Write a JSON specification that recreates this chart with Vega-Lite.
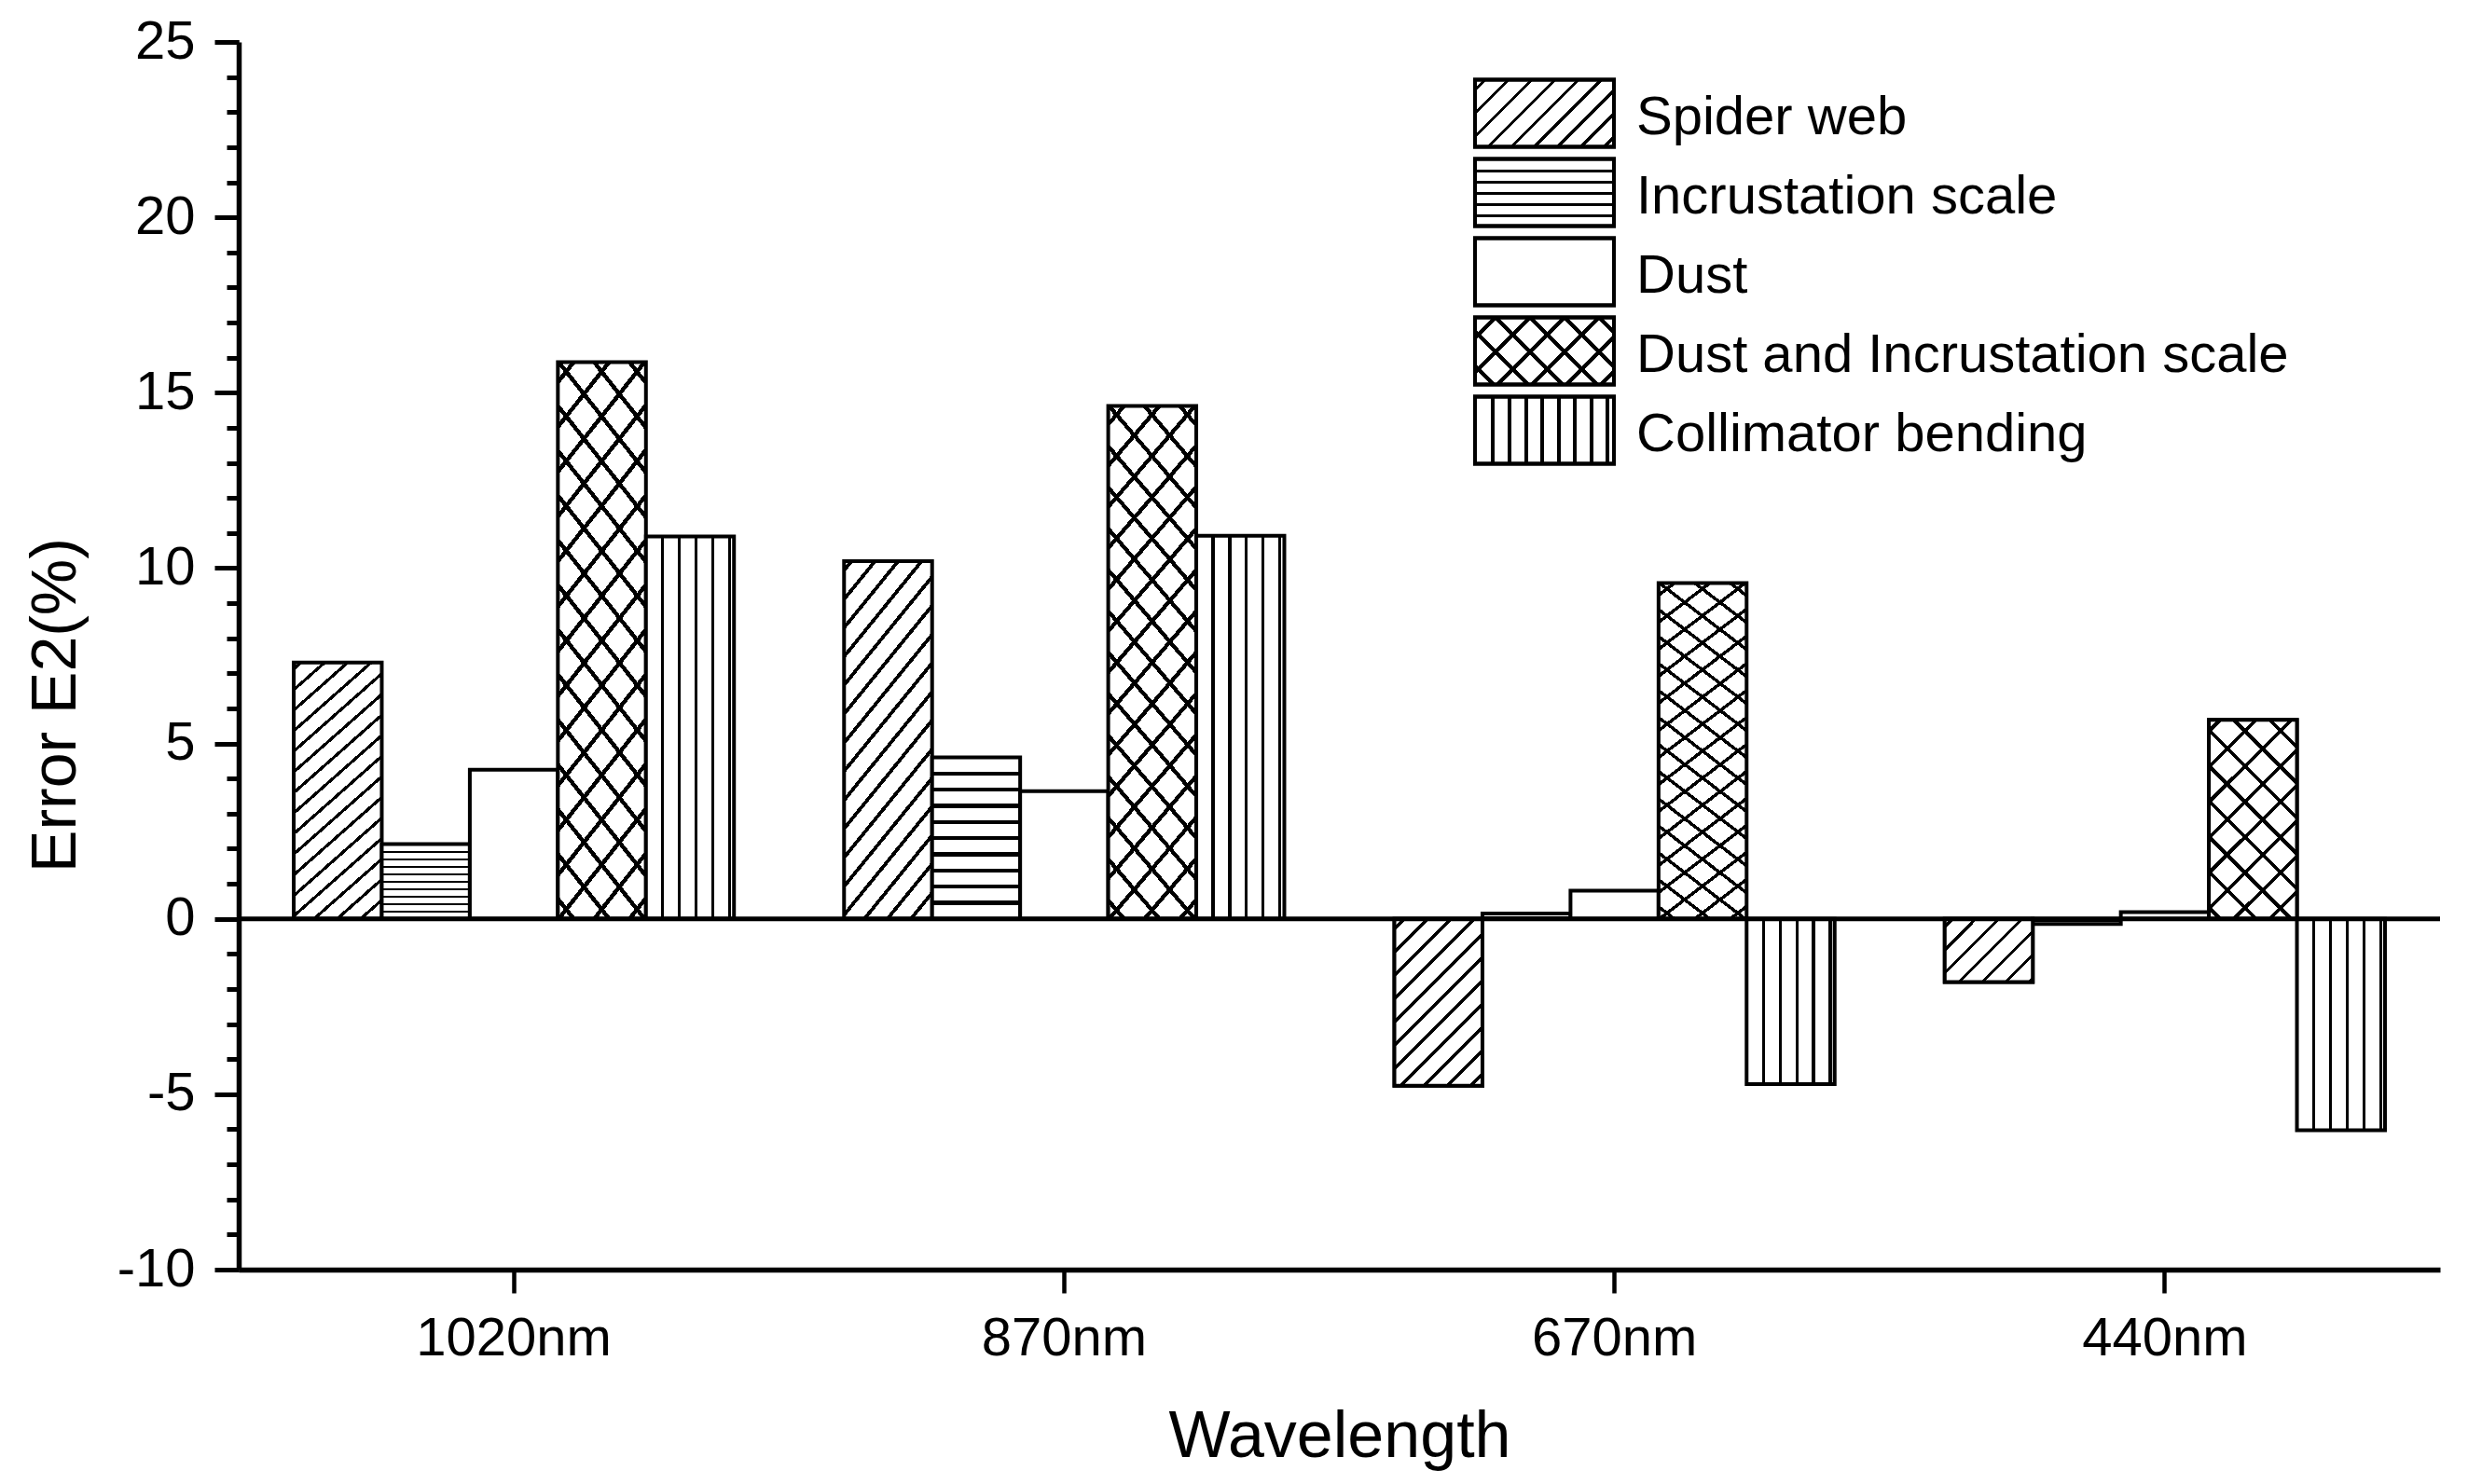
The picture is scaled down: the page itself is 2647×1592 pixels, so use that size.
{
  "$schema": "https://vega.github.io/schema/vega-lite/v6.json",
  "width": 2361,
  "height": 1317,
  "autosize": {"type": "none"},
  "padding": {"left": 256, "top": 45, "right": 30, "bottom": 230},
  "background": "white",
  "params": [
    {"name": "gSpider", "expr": "{gradient:'linear',x1:0,y1:0,x2:0.3617,y2:1.1935,stops:[{offset:0,color:'#fff'},{offset:0.014,color:'#fff'},{offset:0.014,color:'#000'},{offset:0.026,color:'#000'},{offset:0.026,color:'#fff'},{offset:0.076,color:'#fff'},{offset:0.076,color:'#000'},{offset:0.088,color:'#000'},{offset:0.088,color:'#fff'},{offset:0.137,color:'#fff'},{offset:0.137,color:'#000'},{offset:0.149,color:'#000'},{offset:0.149,color:'#fff'},{offset:0.199,color:'#fff'},{offset:0.199,color:'#000'},{offset:0.211,color:'#000'},{offset:0.211,color:'#fff'},{offset:0.26,color:'#fff'},{offset:0.26,color:'#000'},{offset:0.272,color:'#000'},{offset:0.272,color:'#fff'},{offset:0.322,color:'#fff'},{offset:0.322,color:'#000'},{offset:0.334,color:'#000'},{offset:0.334,color:'#fff'},{offset:0.384,color:'#fff'},{offset:0.384,color:'#000'},{offset:0.396,color:'#000'},{offset:0.396,color:'#fff'},{offset:0.445,color:'#fff'},{offset:0.445,color:'#000'},{offset:0.457,color:'#000'},{offset:0.457,color:'#fff'},{offset:0.507,color:'#fff'},{offset:0.507,color:'#000'},{offset:0.519,color:'#000'},{offset:0.519,color:'#fff'},{offset:0.568,color:'#fff'},{offset:0.568,color:'#000'},{offset:0.58,color:'#000'},{offset:0.58,color:'#fff'},{offset:0.63,color:'#fff'},{offset:0.63,color:'#000'},{offset:0.642,color:'#000'},{offset:0.642,color:'#fff'},{offset:0.692,color:'#fff'},{offset:0.692,color:'#000'},{offset:0.704,color:'#000'},{offset:0.704,color:'#fff'},{offset:0.753,color:'#fff'},{offset:0.753,color:'#000'},{offset:0.765,color:'#000'},{offset:0.765,color:'#fff'},{offset:0.815,color:'#fff'},{offset:0.815,color:'#000'},{offset:0.827,color:'#000'},{offset:0.827,color:'#fff'},{offset:0.876,color:'#fff'},{offset:0.876,color:'#000'},{offset:0.888,color:'#000'},{offset:0.888,color:'#fff'},{offset:0.938,color:'#fff'},{offset:0.938,color:'#000'},{offset:0.95,color:'#000'},{offset:0.95,color:'#fff'},{offset:1,color:'#fff'}]}"},
    {"name": "gSpider670", "expr": "{gradient:'linear',x1:0,y1:0,x2:0.629,y2:1.195,stops:[{offset:0,color:'#fff'},{offset:0.031,color:'#fff'},{offset:0.031,color:'#000'},{offset:0.049,color:'#000'},{offset:0.049,color:'#fff'},{offset:0.122,color:'#fff'},{offset:0.122,color:'#000'},{offset:0.14,color:'#000'},{offset:0.14,color:'#fff'},{offset:0.214,color:'#fff'},{offset:0.214,color:'#000'},{offset:0.232,color:'#000'},{offset:0.232,color:'#fff'},{offset:0.305,color:'#fff'},{offset:0.305,color:'#000'},{offset:0.323,color:'#000'},{offset:0.323,color:'#fff'},{offset:0.397,color:'#fff'},{offset:0.397,color:'#000'},{offset:0.415,color:'#000'},{offset:0.415,color:'#fff'},{offset:0.488,color:'#fff'},{offset:0.488,color:'#000'},{offset:0.506,color:'#000'},{offset:0.506,color:'#fff'},{offset:0.579,color:'#fff'},{offset:0.579,color:'#000'},{offset:0.597,color:'#000'},{offset:0.597,color:'#fff'},{offset:0.671,color:'#fff'},{offset:0.671,color:'#000'},{offset:0.689,color:'#000'},{offset:0.689,color:'#fff'},{offset:0.762,color:'#fff'},{offset:0.762,color:'#000'},{offset:0.78,color:'#000'},{offset:0.78,color:'#fff'},{offset:0.854,color:'#fff'},{offset:0.854,color:'#000'},{offset:0.872,color:'#000'},{offset:0.872,color:'#fff'},{offset:0.945,color:'#fff'},{offset:0.945,color:'#000'},{offset:0.963,color:'#000'},{offset:0.963,color:'#fff'},{offset:1,color:'#fff'}]}"},
    {"name": "gSpider440", "expr": "{gradient:'linear',x1:0,y1:0,x2:1.134,y2:0.813,stops:[{offset:0,color:'#fff'},{offset:0.035,color:'#fff'},{offset:0.035,color:'#000'},{offset:0.065,color:'#000'},{offset:0.065,color:'#fff'},{offset:0.189,color:'#fff'},{offset:0.189,color:'#000'},{offset:0.219,color:'#000'},{offset:0.219,color:'#fff'},{offset:0.343,color:'#fff'},{offset:0.343,color:'#000'},{offset:0.373,color:'#000'},{offset:0.373,color:'#fff'},{offset:0.497,color:'#fff'},{offset:0.497,color:'#000'},{offset:0.527,color:'#000'},{offset:0.527,color:'#fff'},{offset:0.651,color:'#fff'},{offset:0.651,color:'#000'},{offset:0.681,color:'#000'},{offset:0.681,color:'#fff'},{offset:0.805,color:'#fff'},{offset:0.805,color:'#000'},{offset:0.835,color:'#000'},{offset:0.835,color:'#fff'},{offset:0.959,color:'#fff'},{offset:0.959,color:'#000'},{offset:0.989,color:'#000'},{offset:0.989,color:'#fff'},{offset:1,color:'#fff'}]}"},
    {"name": "gIncr", "expr": "{gradient:'linear',x1:0,y1:0,x2:0,y2:1,stops:[{offset:0,color:'#fff'},{offset:0.087,color:'#fff'},{offset:0.087,color:'#000'},{offset:0.113,color:'#000'},{offset:0.113,color:'#fff'},{offset:0.187,color:'#fff'},{offset:0.187,color:'#000'},{offset:0.213,color:'#000'},{offset:0.213,color:'#fff'},{offset:0.287,color:'#fff'},{offset:0.287,color:'#000'},{offset:0.313,color:'#000'},{offset:0.313,color:'#fff'},{offset:0.387,color:'#fff'},{offset:0.387,color:'#000'},{offset:0.413,color:'#000'},{offset:0.413,color:'#fff'},{offset:0.487,color:'#fff'},{offset:0.487,color:'#000'},{offset:0.513,color:'#000'},{offset:0.513,color:'#fff'},{offset:0.587,color:'#fff'},{offset:0.587,color:'#000'},{offset:0.613,color:'#000'},{offset:0.613,color:'#fff'},{offset:0.687,color:'#fff'},{offset:0.687,color:'#000'},{offset:0.713,color:'#000'},{offset:0.713,color:'#fff'},{offset:0.787,color:'#fff'},{offset:0.787,color:'#000'},{offset:0.813,color:'#000'},{offset:0.813,color:'#fff'},{offset:0.887,color:'#fff'},{offset:0.887,color:'#000'},{offset:0.913,color:'#000'},{offset:0.913,color:'#fff'},{offset:1,color:'#fff'}]}"},
    {"name": "gCross", "expr": "{gradient:'linear',x1:0,y1:0,x2:0.2308,y2:1.1538,stops:[{offset:0,color:'#fff'},{offset:0.025,color:'#fff'},{offset:0.025,color:'#000'},{offset:0.035,color:'#000'},{offset:0.035,color:'#fff'},{offset:0.092,color:'#fff'},{offset:0.092,color:'#000'},{offset:0.102,color:'#000'},{offset:0.102,color:'#fff'},{offset:0.159,color:'#fff'},{offset:0.159,color:'#000'},{offset:0.169,color:'#000'},{offset:0.169,color:'#fff'},{offset:0.226,color:'#fff'},{offset:0.226,color:'#000'},{offset:0.236,color:'#000'},{offset:0.236,color:'#fff'},{offset:0.293,color:'#fff'},{offset:0.293,color:'#000'},{offset:0.303,color:'#000'},{offset:0.303,color:'#fff'},{offset:0.361,color:'#fff'},{offset:0.361,color:'#000'},{offset:0.371,color:'#000'},{offset:0.371,color:'#fff'},{offset:0.428,color:'#fff'},{offset:0.428,color:'#000'},{offset:0.438,color:'#000'},{offset:0.438,color:'#fff'},{offset:0.495,color:'#fff'},{offset:0.495,color:'#000'},{offset:0.505,color:'#000'},{offset:0.505,color:'#fff'},{offset:0.562,color:'#fff'},{offset:0.562,color:'#000'},{offset:0.572,color:'#000'},{offset:0.572,color:'#fff'},{offset:0.629,color:'#fff'},{offset:0.629,color:'#000'},{offset:0.639,color:'#000'},{offset:0.639,color:'#fff'},{offset:0.696,color:'#fff'},{offset:0.696,color:'#000'},{offset:0.706,color:'#000'},{offset:0.706,color:'#fff'},{offset:0.763,color:'#fff'},{offset:0.763,color:'#000'},{offset:0.773,color:'#000'},{offset:0.773,color:'#fff'},{offset:0.83,color:'#fff'},{offset:0.83,color:'#000'},{offset:0.84,color:'#000'},{offset:0.84,color:'#fff'},{offset:0.897,color:'#fff'},{offset:0.897,color:'#000'},{offset:0.907,color:'#000'},{offset:0.907,color:'#fff'},{offset:0.964,color:'#fff'},{offset:0.964,color:'#000'},{offset:0.974,color:'#000'},{offset:0.974,color:'#fff'},{offset:1,color:'#fff'}]}"},
    {"name": "gCross2", "expr": "{gradient:'linear',x1:0,y1:1,x2:0.2308,y2:-0.1538,stops:[{offset:0,color:'transparent'},{offset:0.025,color:'transparent'},{offset:0.025,color:'#000'},{offset:0.035,color:'#000'},{offset:0.035,color:'transparent'},{offset:0.092,color:'transparent'},{offset:0.092,color:'#000'},{offset:0.102,color:'#000'},{offset:0.102,color:'transparent'},{offset:0.159,color:'transparent'},{offset:0.159,color:'#000'},{offset:0.169,color:'#000'},{offset:0.169,color:'transparent'},{offset:0.226,color:'transparent'},{offset:0.226,color:'#000'},{offset:0.236,color:'#000'},{offset:0.236,color:'transparent'},{offset:0.293,color:'transparent'},{offset:0.293,color:'#000'},{offset:0.303,color:'#000'},{offset:0.303,color:'transparent'},{offset:0.361,color:'transparent'},{offset:0.361,color:'#000'},{offset:0.371,color:'#000'},{offset:0.371,color:'transparent'},{offset:0.428,color:'transparent'},{offset:0.428,color:'#000'},{offset:0.438,color:'#000'},{offset:0.438,color:'transparent'},{offset:0.495,color:'transparent'},{offset:0.495,color:'#000'},{offset:0.505,color:'#000'},{offset:0.505,color:'transparent'},{offset:0.562,color:'transparent'},{offset:0.562,color:'#000'},{offset:0.572,color:'#000'},{offset:0.572,color:'transparent'},{offset:0.629,color:'transparent'},{offset:0.629,color:'#000'},{offset:0.639,color:'#000'},{offset:0.639,color:'transparent'},{offset:0.696,color:'transparent'},{offset:0.696,color:'#000'},{offset:0.706,color:'#000'},{offset:0.706,color:'transparent'},{offset:0.763,color:'transparent'},{offset:0.763,color:'#000'},{offset:0.773,color:'#000'},{offset:0.773,color:'transparent'},{offset:0.83,color:'transparent'},{offset:0.83,color:'#000'},{offset:0.84,color:'#000'},{offset:0.84,color:'transparent'},{offset:0.897,color:'transparent'},{offset:0.897,color:'#000'},{offset:0.907,color:'#000'},{offset:0.907,color:'transparent'},{offset:0.964,color:'transparent'},{offset:0.964,color:'#000'},{offset:0.974,color:'#000'},{offset:0.974,color:'transparent'},{offset:1,color:'transparent'}]}"},
    {"name": "gCross440", "expr": "{gradient:'linear',x1:0,y1:0,x2:0.5336,y2:1.206,stops:[{offset:0,color:'#fff'},{offset:0.031,color:'#fff'},{offset:0.031,color:'#000'},{offset:0.049,color:'#000'},{offset:0.049,color:'#fff'},{offset:0.155,color:'#fff'},{offset:0.155,color:'#000'},{offset:0.173,color:'#000'},{offset:0.173,color:'#fff'},{offset:0.278,color:'#fff'},{offset:0.278,color:'#000'},{offset:0.296,color:'#000'},{offset:0.296,color:'#fff'},{offset:0.402,color:'#fff'},{offset:0.402,color:'#000'},{offset:0.42,color:'#000'},{offset:0.42,color:'#fff'},{offset:0.525,color:'#fff'},{offset:0.525,color:'#000'},{offset:0.543,color:'#000'},{offset:0.543,color:'#fff'},{offset:0.649,color:'#fff'},{offset:0.649,color:'#000'},{offset:0.667,color:'#000'},{offset:0.667,color:'#fff'},{offset:0.772,color:'#fff'},{offset:0.772,color:'#000'},{offset:0.79,color:'#000'},{offset:0.79,color:'#fff'},{offset:0.896,color:'#fff'},{offset:0.896,color:'#000'},{offset:0.914,color:'#000'},{offset:0.914,color:'#fff'},{offset:1,color:'#fff'}]}"},
    {"name": "gCross440b", "expr": "{gradient:'linear',x1:0,y1:1,x2:0.5336,y2:-0.206,stops:[{offset:0,color:'transparent'},{offset:0.031,color:'transparent'},{offset:0.031,color:'#000'},{offset:0.049,color:'#000'},{offset:0.049,color:'transparent'},{offset:0.155,color:'transparent'},{offset:0.155,color:'#000'},{offset:0.173,color:'#000'},{offset:0.173,color:'transparent'},{offset:0.278,color:'transparent'},{offset:0.278,color:'#000'},{offset:0.296,color:'#000'},{offset:0.296,color:'transparent'},{offset:0.402,color:'transparent'},{offset:0.402,color:'#000'},{offset:0.42,color:'#000'},{offset:0.42,color:'transparent'},{offset:0.525,color:'transparent'},{offset:0.525,color:'#000'},{offset:0.543,color:'#000'},{offset:0.543,color:'transparent'},{offset:0.649,color:'transparent'},{offset:0.649,color:'#000'},{offset:0.667,color:'#000'},{offset:0.667,color:'transparent'},{offset:0.772,color:'transparent'},{offset:0.772,color:'#000'},{offset:0.79,color:'#000'},{offset:0.79,color:'transparent'},{offset:0.896,color:'transparent'},{offset:0.896,color:'#000'},{offset:0.914,color:'#000'},{offset:0.914,color:'transparent'},{offset:1,color:'transparent'}]}"},
    {"name": "gColl", "expr": "{gradient:'linear',x1:0,y1:0,x2:1,y2:0,stops:[{offset:0,color:'#fff'},{offset:0.173,color:'#fff'},{offset:0.173,color:'#000'},{offset:0.207,color:'#000'},{offset:0.207,color:'#fff'},{offset:0.363,color:'#fff'},{offset:0.363,color:'#000'},{offset:0.397,color:'#000'},{offset:0.397,color:'#fff'},{offset:0.553,color:'#fff'},{offset:0.553,color:'#000'},{offset:0.587,color:'#000'},{offset:0.587,color:'#fff'},{offset:0.743,color:'#fff'},{offset:0.743,color:'#000'},{offset:0.777,color:'#000'},{offset:0.777,color:'#fff'},{offset:0.933,color:'#fff'},{offset:0.933,color:'#000'},{offset:0.967,color:'#000'},{offset:0.967,color:'#fff'},{offset:1,color:'#fff'}]}"},
    {"name": "lSpider", "expr": "{gradient:'linear',x1:0,y1:0,x2:1.2025,y2:0.5808,stops:[{offset:0,color:'#fff'},{offset:0.039,color:'#fff'},{offset:0.039,color:'#000'},{offset:0.061,color:'#000'},{offset:0.061,color:'#fff'},{offset:0.152,color:'#fff'},{offset:0.152,color:'#000'},{offset:0.174,color:'#000'},{offset:0.174,color:'#fff'},{offset:0.265,color:'#fff'},{offset:0.265,color:'#000'},{offset:0.287,color:'#000'},{offset:0.287,color:'#fff'},{offset:0.378,color:'#fff'},{offset:0.378,color:'#000'},{offset:0.4,color:'#000'},{offset:0.4,color:'#fff'},{offset:0.491,color:'#fff'},{offset:0.491,color:'#000'},{offset:0.513,color:'#000'},{offset:0.513,color:'#fff'},{offset:0.604,color:'#fff'},{offset:0.604,color:'#000'},{offset:0.626,color:'#000'},{offset:0.626,color:'#fff'},{offset:0.717,color:'#fff'},{offset:0.717,color:'#000'},{offset:0.739,color:'#000'},{offset:0.739,color:'#fff'},{offset:0.83,color:'#fff'},{offset:0.83,color:'#000'},{offset:0.852,color:'#000'},{offset:0.852,color:'#fff'},{offset:0.943,color:'#fff'},{offset:0.943,color:'#000'},{offset:0.965,color:'#000'},{offset:0.965,color:'#fff'},{offset:1,color:'#fff'}]}"},
    {"name": "lIncr", "expr": "{gradient:'linear',x1:0,y1:0,x2:0,y2:1,stops:[{offset:0,color:'#fff'},{offset:0.16,color:'#fff'},{offset:0.16,color:'#000'},{offset:0.2,color:'#000'},{offset:0.2,color:'#fff'},{offset:0.325,color:'#fff'},{offset:0.325,color:'#000'},{offset:0.365,color:'#000'},{offset:0.365,color:'#fff'},{offset:0.495,color:'#fff'},{offset:0.495,color:'#000'},{offset:0.535,color:'#000'},{offset:0.535,color:'#fff'},{offset:0.665,color:'#fff'},{offset:0.665,color:'#000'},{offset:0.705,color:'#000'},{offset:0.705,color:'#fff'},{offset:0.83,color:'#fff'},{offset:0.83,color:'#000'},{offset:0.87,color:'#000'},{offset:0.87,color:'#fff'},{offset:1,color:'#fff'}]}"},
    {"name": "lCross", "expr": "{gradient:'linear',x1:0,y1:0,x2:1.2025,y2:0.5808,stops:[{offset:0,color:'#fff'},{offset:0.087,color:'#fff'},{offset:0.087,color:'#000'},{offset:0.113,color:'#000'},{offset:0.113,color:'#fff'},{offset:0.254,color:'#fff'},{offset:0.254,color:'#000'},{offset:0.28,color:'#000'},{offset:0.28,color:'#fff'},{offset:0.421,color:'#fff'},{offset:0.421,color:'#000'},{offset:0.447,color:'#000'},{offset:0.447,color:'#fff'},{offset:0.589,color:'#fff'},{offset:0.589,color:'#000'},{offset:0.615,color:'#000'},{offset:0.615,color:'#fff'},{offset:0.756,color:'#fff'},{offset:0.756,color:'#000'},{offset:0.782,color:'#000'},{offset:0.782,color:'#fff'},{offset:0.924,color:'#fff'},{offset:0.924,color:'#000'},{offset:0.95,color:'#000'},{offset:0.95,color:'#fff'},{offset:1,color:'#fff'}]}"},
    {"name": "lCross2", "expr": "{gradient:'linear',x1:0,y1:1,x2:1.2025,y2:0.4192,stops:[{offset:0,color:'transparent'},{offset:0.077,color:'transparent'},{offset:0.077,color:'#000'},{offset:0.103,color:'#000'},{offset:0.103,color:'transparent'},{offset:0.245,color:'transparent'},{offset:0.245,color:'#000'},{offset:0.271,color:'#000'},{offset:0.271,color:'transparent'},{offset:0.412,color:'transparent'},{offset:0.412,color:'#000'},{offset:0.438,color:'#000'},{offset:0.438,color:'transparent'},{offset:0.58,color:'transparent'},{offset:0.58,color:'#000'},{offset:0.606,color:'#000'},{offset:0.606,color:'transparent'},{offset:0.747,color:'transparent'},{offset:0.747,color:'#000'},{offset:0.773,color:'#000'},{offset:0.773,color:'transparent'},{offset:0.915,color:'transparent'},{offset:0.915,color:'#000'},{offset:0.941,color:'#000'},{offset:0.941,color:'transparent'},{offset:1,color:'transparent'}]}"},
    {"name": "lColl", "expr": "{gradient:'linear',x1:0,y1:0,x2:1,y2:0,stops:[{offset:0,color:'#fff'},{offset:0.117,color:'#fff'},{offset:0.117,color:'#000'},{offset:0.139,color:'#000'},{offset:0.139,color:'#fff'},{offset:0.237,color:'#fff'},{offset:0.237,color:'#000'},{offset:0.259,color:'#000'},{offset:0.259,color:'#fff'},{offset:0.358,color:'#fff'},{offset:0.358,color:'#000'},{offset:0.38,color:'#000'},{offset:0.38,color:'#fff'},{offset:0.472,color:'#fff'},{offset:0.472,color:'#000'},{offset:0.494,color:'#000'},{offset:0.494,color:'#fff'},{offset:0.593,color:'#fff'},{offset:0.593,color:'#000'},{offset:0.615,color:'#000'},{offset:0.615,color:'#fff'},{offset:0.707,color:'#fff'},{offset:0.707,color:'#000'},{offset:0.729,color:'#000'},{offset:0.729,color:'#fff'},{offset:0.828,color:'#fff'},{offset:0.828,color:'#000'},{offset:0.85,color:'#000'},{offset:0.85,color:'#fff'},{offset:0.942,color:'#fff'},{offset:0.942,color:'#000'},{offset:0.964,color:'#000'},{offset:0.964,color:'#fff'},{offset:1,color:'#fff'}]}"}
  ],
  "data": {
    "values": [
      {"wavelength": "1020nm", "series": "Spider web", "value": 7.31},
      {"wavelength": "1020nm", "series": "Incrustation scale", "value": 2.13},
      {"wavelength": "1020nm", "series": "Dust", "value": 4.25},
      {"wavelength": "1020nm", "series": "Dust and Incrustation scale", "value": 15.87},
      {"wavelength": "1020nm", "series": "Collimator bending", "value": 10.9},
      {"wavelength": "870nm", "series": "Spider web", "value": 10.2},
      {"wavelength": "870nm", "series": "Incrustation scale", "value": 4.6},
      {"wavelength": "870nm", "series": "Dust", "value": 3.64},
      {"wavelength": "870nm", "series": "Dust and Incrustation scale", "value": 14.62},
      {"wavelength": "870nm", "series": "Collimator bending", "value": 10.92},
      {"wavelength": "670nm", "series": "Spider web", "value": -4.76},
      {"wavelength": "670nm", "series": "Incrustation scale", "value": 0.15},
      {"wavelength": "670nm", "series": "Dust", "value": 0.8},
      {"wavelength": "670nm", "series": "Dust and Incrustation scale", "value": 9.57},
      {"wavelength": "670nm", "series": "Collimator bending", "value": -4.71},
      {"wavelength": "440nm", "series": "Spider web", "value": -1.8},
      {"wavelength": "440nm", "series": "Incrustation scale", "value": -0.15},
      {"wavelength": "440nm", "series": "Dust", "value": 0.19},
      {"wavelength": "440nm", "series": "Dust and Incrustation scale", "value": 5.67},
      {"wavelength": "440nm", "series": "Collimator bending", "value": -6.03}
    ]
  },
  "layer": [
    {
      "encoding": {
        "x": {
          "field": "wavelength",
          "type": "nominal",
          "sort": ["1020nm", "870nm", "670nm", "440nm"],
          "scale": {"paddingInner": 0.2, "paddingOuter": 0.1},
          "axis": {
            "title": "Wavelength",
            "titleFontSize": 70,
            "titleBaseline": "alphabetic",
            "titleY": 200,
            "labelAngle": 0,
            "labelFontSize": 58,
            "labelLimit": 1000,
            "labelPadding": 20,
            "tickSize": 25,
            "tickWidth": 4.5,
            "domainWidth": 5.5
          }
        },
        "xOffset": {
          "field": "series",
          "type": "nominal",
          "scale": {
            "domain": ["Spider web", "Incrustation scale", "Dust", "Dust and Incrustation scale", "Collimator bending"],
            "paddingInner": 0,
            "paddingOuter": 0
          }
        },
        "y": {
          "field": "value",
          "type": "quantitative",
          "scale": {"domain": [-10, 25], "nice": false},
          "axis": {
            "orient": "left",
            "title": "Error E2(%)",
            "titleFontSize": 68,
            "titleAngle": -90,
            "titleX": -176,
            "titleY": 711,
            "titleAlign": "center",
            "titleBaseline": "alphabetic",
            "values": [-10, -5, 0, 5, 10, 15, 20, 25],
            "labelExpr": "'' + datum.value",
            "labelFontSize": 58,
            "labelPadding": 21,
            "tickSize": 26,
            "tickWidth": 5,
            "domainWidth": 5.5
          }
        }
      },
      "layer": [
        {
          "mark": {"type": "bar", "stroke": "black", "strokeWidth": 4},
          "encoding": {
            "fill": {
              "field": "series",
              "type": "nominal",
              "scale": {
                "domain": ["Spider web", "Incrustation scale", "Dust", "Dust and Incrustation scale", "Collimator bending"],
                "range": [{"expr": "gSpider"}, {"expr": "gIncr"}, "white", {"expr": "gCross"}, {"expr": "gColl"}]
              },
              "legend": null
            }
          }
        },
        {
          "transform": [{"filter": "datum.series === 'Dust and Incrustation scale' && datum.wavelength !== '440nm'"}],
          "mark": {"type": "bar", "fill": {"expr": "gCross2"}, "strokeWidth": 0}
        },
        {
          "transform": [{"filter": "datum.series === 'Spider web' && datum.wavelength === '670nm'"}],
          "mark": {"type": "bar", "fill": {"expr": "gSpider670"}, "stroke": "black", "strokeWidth": 4}
        },
        {
          "transform": [{"filter": "datum.series === 'Spider web' && datum.wavelength === '440nm'"}],
          "mark": {"type": "bar", "fill": {"expr": "gSpider440"}, "stroke": "black", "strokeWidth": 4}
        },
        {
          "transform": [{"filter": "datum.series === 'Dust and Incrustation scale' && datum.wavelength === '440nm'"}],
          "mark": {"type": "bar", "fill": {"expr": "gCross440"}, "stroke": "black", "strokeWidth": 4}
        },
        {
          "transform": [{"filter": "datum.series === 'Dust and Incrustation scale' && datum.wavelength === '440nm'"}],
          "mark": {"type": "bar", "fill": {"expr": "gCross440b"}, "strokeWidth": 0}
        },
        {
          "mark": {"type": "bar", "opacity": 0},
          "encoding": {
            "fill": {
              "field": "series",
              "type": "nominal",
              "scale": {
                "domain": ["Spider web", "Incrustation scale", "Dust", "Dust and Incrustation scale", "Collimator bending"],
                "range": [{"expr": "lSpider"}, {"expr": "lIncr"}, "white", {"expr": "lCross"}, {"expr": "lColl"}]
              },
              "legend": {
                "orient": "none",
                "legendX": 1361,
                "legendY": 37,
                "title": null,
                "padding": 0,
                "symbolType": "M-2,-0.966H2V0.966H-2Z",
                "symbolSize": 5550,
                "symbolStrokeColor": "black",
                "symbolStrokeWidth": 4,
                "symbolOpacity": 1,
                "labelFontSize": 58,
                "labelOffset": 59,
                "labelLimit": 1200,
                "rowPadding": -4,
                "encode": {
                  "symbols": {"update": {"opacity": {"value": 1}, "stroke": {"value": "black"}, "strokeWidth": {"value": 4}}},
                  "labels": {"update": {"dy": {"value": 5}}}
                }
              }
            }
          }
        },
        {
          "mark": {"type": "bar", "opacity": 0},
          "encoding": {
            "fill": {
              "field": "series",
              "type": "nominal",
              "scale": {
                "domain": ["Spider web", "Incrustation scale", "Dust", "Dust and Incrustation scale", "Collimator bending"],
                "range": ["transparent", "transparent", "transparent", {"expr": "lCross2"}, "transparent"]
              },
              "legend": {
                "orient": "none",
                "legendX": 1361,
                "legendY": 37,
                "title": null,
                "padding": 0,
                "symbolType": "M-2,-0.966H2V0.966H-2Z",
                "symbolSize": 5550,
                "symbolStrokeColor": "black",
                "symbolStrokeWidth": 4,
                "symbolOpacity": 1,
                "labelFontSize": 58,
                "labelOffset": 59,
                "labelLimit": 1200,
                "labelOpacity": 0,
                "rowPadding": -4,
                "encode": {"symbols": {"update": {"opacity": {"value": 1}, "stroke": {"value": "black"}, "strokeWidth": {"value": 4}}}}
              }
            }
          }
        }
      ],
      "resolve": {"scale": {"fill": "independent"}}
    },
    {
      "data": {"values": [{}]},
      "mark": {"type": "rule", "strokeWidth": 5, "color": "black"},
      "encoding": {
        "y": {
          "datum": 0,
          "type": "quantitative",
          "axis": {
            "orient": "left",
            "title": null,
            "values": [-10, -9, -8, -7, -6, -5, -4, -3, -2, -1, 0, 1, 2, 3, 4, 5, 6, 7, 8, 9, 10, 11, 12, 13, 14, 15, 16, 17, 18, 19, 20, 21, 22, 23, 24, 25],
            "labels": false,
            "domain": false,
            "tickSize": 13,
            "tickWidth": 5
          }
        }
      }
    }
  ],
  "resolve": {"axis": {"y": "independent"}},
  "config": {
    "view": {"stroke": null},
    "font": "Liberation Sans",
    "axis": {
      "grid": false,
      "domainColor": "black",
      "tickColor": "black",
      "labelColor": "black",
      "titleColor": "black",
      "labelFont": "Liberation Sans",
      "titleFont": "Liberation Sans",
      "titleFontWeight": "normal"
    },
    "legend": {
      "labelFont": "Liberation Sans",
      "labelColor": "black"
    }
  }
}
